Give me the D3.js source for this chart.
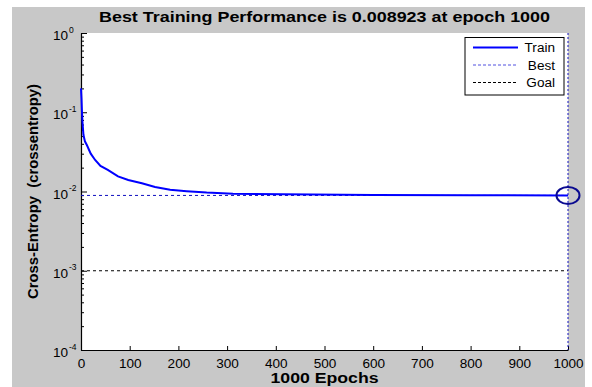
<!DOCTYPE html>
<html>
<head>
<meta charset="utf-8">
<script src="https://cdn.jsdelivr.net/npm/d3@7/dist/d3.min.js"></script>
<style>
  html, body { margin: 0; padding: 0; background: #fff; }
  svg { display: block; }
  text { font-family: "Liberation Sans", Arial, sans-serif; }
</style>
</head>
<body>
<svg id="chart" width="592" height="387"></svg>
<script>
// Training record: epoch and cross-entropy performance
const epochs = [0, 1, 2, 3, 5, 8, 12, 20, 29, 40, 55, 76, 97, 125, 152, 183, 217, 258, 312, 415, 600, 800, 1000];
const trainPerf = [0.20, 0.15, 0.10, 0.075, 0.052, 0.043, 0.0386, 0.030, 0.025, 0.021, 0.0187, 0.0155, 0.0140, 0.0127, 0.0114, 0.0105, 0.0101, 0.0097, 0.0094, 0.0092, 0.00905, 0.0090, 0.008923];
const bestEpoch = 1000;
const bestPerf = 0.008923;
const goalPerf = 0.001;
const xTicks = [0, 100, 200, 300, 400, 500, 600, 700, 800, 900, 1000];
const yExponents = [0, -1, -2, -3, -4];
const legendItems = ["Train", "Best", "Goal"];

const svg = d3.select("#chart");
const H = 387;
const plot = { left: 81, right: 568, top: 33, bottom: 350 };
const WIDEN = 1.13; // horizontal glyph stretch of the figure text

function widen(sel, factor) {
  sel.each(function () {
    const w = this.getComputedTextLength();
    d3.select(this).attr("textLength", w * factor).attr("lengthAdjust", "spacingAndGlyphs");
  });
}

// figure background
svg.append("rect").attr("x", 12).attr("y", 7).attr("width", 573).attr("height", H - 7).attr("fill", "#c8c8c8");
// axes background
svg.append("rect").attr("x", plot.left).attr("y", plot.top)
  .attr("width", plot.right - plot.left).attr("height", plot.bottom - plot.top).attr("fill", "#fff");

const x = d3.scaleLinear().domain([0, 1000]).range([plot.left, plot.right]);
const y = d3.scaleLog().domain([1e-4, 1]).range([plot.bottom, plot.top]);

// x axis (ticks pointing inward)
const xAxis = d3.axisBottom(x).tickValues(xTicks).tickSizeInner(-4).tickSizeOuter(0).tickPadding(9)
  .tickFormat(d3.format("d"));
const gx = svg.append("g").attr("transform", `translate(0,${plot.bottom})`).call(xAxis);
gx.select(".domain").attr("stroke", "#000").attr("stroke-width", 1.2);
gx.selectAll(".tick line").attr("stroke", "#000");
gx.selectAll(".tick text").attr("font-size", 12).attr("fill", "#000")
  .attr("font-family", "Liberation Sans, Arial, sans-serif");
widen(gx.selectAll(".tick text"), WIDEN);

// y axis: major and minor ticks pointing inward
const minorVals = [];
yExponents.slice(0, -1).forEach(e => {
  for (let m = 2; m <= 9; m++) minorVals.push(m * Math.pow(10, e - 1));
});
const yMinor = d3.axisLeft(y).tickValues(minorVals).tickSizeInner(-3).tickSizeOuter(0).tickFormat("");
const gyMinor = svg.append("g").attr("transform", `translate(${plot.left},0)`).call(yMinor);
gyMinor.select(".domain").remove();
gyMinor.selectAll(".tick line").attr("stroke", "#000");

const majorVals = yExponents.map(e => Math.pow(10, e));
const yAxis = d3.axisLeft(y).tickValues(majorVals).tickSizeInner(-6).tickSizeOuter(0).tickFormat("");
const gy = svg.append("g").attr("transform", `translate(${plot.left},0)`).call(yAxis);
gy.select(".domain").attr("stroke", "#000").attr("stroke-width", 1.2);
gy.selectAll(".tick line").attr("stroke", "#000");

// power-of-ten tick labels
yExponents.forEach(e => {
  const base = svg.append("text")
    .attr("x", 68).attr("y", y(Math.pow(10, e)) + 7)
    .attr("text-anchor", "end").attr("font-size", 12).attr("fill", "#000")
    .text("10");
  widen(base, WIDEN);
  svg.append("text")
    .attr("x", 69).attr("y", y(Math.pow(10, e)) - 0.5)
    .attr("font-size", 8.5).attr("fill", "#000")
    .text(String(e));
});

// goal line
svg.append("line")
  .attr("x1", x(0)).attr("x2", x(1000)).attr("y1", y(goalPerf)).attr("y2", y(goalPerf))
  .attr("stroke", "#000").attr("stroke-width", 1).attr("stroke-dasharray", "3,3");

// best horizontal line
svg.append("line")
  .attr("x1", x(0)).attr("x2", x(1000)).attr("y1", y(bestPerf)).attr("y2", y(bestPerf))
  .attr("stroke", "#1010c0").attr("stroke-width", 1).attr("stroke-dasharray", "3,3");

// best vertical line
svg.append("line")
  .attr("x1", x(bestEpoch)).attr("x2", x(bestEpoch)).attr("y1", plot.top).attr("y2", plot.bottom)
  .attr("stroke", "#1010c0").attr("stroke-width", 1).attr("stroke-dasharray", "2,2");

// training curve
const line = d3.line().x((d, i) => x(epochs[i])).y(d => y(d));
svg.append("path").datum(trainPerf).attr("d", line)
  .attr("fill", "none").attr("stroke", "#0000ff").attr("stroke-width", 2);

// best point marker
svg.append("ellipse")
  .attr("cx", x(bestEpoch)).attr("cy", y(bestPerf)).attr("rx", 11.5).attr("ry", 8.5)
  .attr("fill", "none").attr("stroke", "#0a0a90").attr("stroke-width", 2);

// legend
const lg = svg.append("g");
lg.append("rect").attr("x", 465).attr("y", 37.5).attr("width", 99).attr("height", 57.5)
  .attr("fill", "#fff").attr("stroke", "#000").attr("stroke-width", 1);
const legendStyles = [
  { stroke: "#0000ff", width: 2, dash: null },
  { stroke: "#5050e0", width: 1, dash: "3,2" },
  { stroke: "#000", width: 1, dash: "3,2" }
];
legendItems.forEach((name, i) => {
  const ly = 47.5 + i * 17.5;
  const s = legendStyles[i];
  const l = lg.append("line").attr("x1", 473).attr("x2", 518).attr("y1", ly).attr("y2", ly)
    .attr("stroke", s.stroke).attr("stroke-width", s.width);
  if (s.dash) l.attr("stroke-dasharray", s.dash);
  const t = lg.append("text").attr("x", 555).attr("y", ly + 4.5).attr("text-anchor", "end")
    .attr("font-size", 12).attr("fill", "#000").text(name);
  widen(t, WIDEN);
});

// title and axis labels
svg.append("text").attr("x", (plot.left + plot.right) / 2).attr("y", 22)
  .attr("text-anchor", "middle").attr("font-size", 15).attr("font-weight", "bold").attr("fill", "#000")
  .attr("textLength", 451).attr("lengthAdjust", "spacingAndGlyphs")
  .text("Best Training Performance is 0.008923 at epoch 1000");
svg.append("text").attr("x", (plot.left + plot.right) / 2).attr("y", 383)
  .attr("text-anchor", "middle").attr("font-size", 14).attr("font-weight", "bold").attr("fill", "#000")
  .attr("textLength", 108).attr("lengthAdjust", "spacingAndGlyphs")
  .text("1000 Epochs");
svg.append("text").attr("transform", `translate(38,${(plot.top + plot.bottom) / 2}) rotate(-90)`)
  .attr("text-anchor", "middle").attr("font-size", 14).attr("font-weight", "bold").attr("fill", "#000")
  .style("white-space", "pre")
  .attr("textLength", 215).attr("lengthAdjust", "spacingAndGlyphs")
  .text("Cross-Entropy  (crossentropy)");
</script>
</body>
</html>
